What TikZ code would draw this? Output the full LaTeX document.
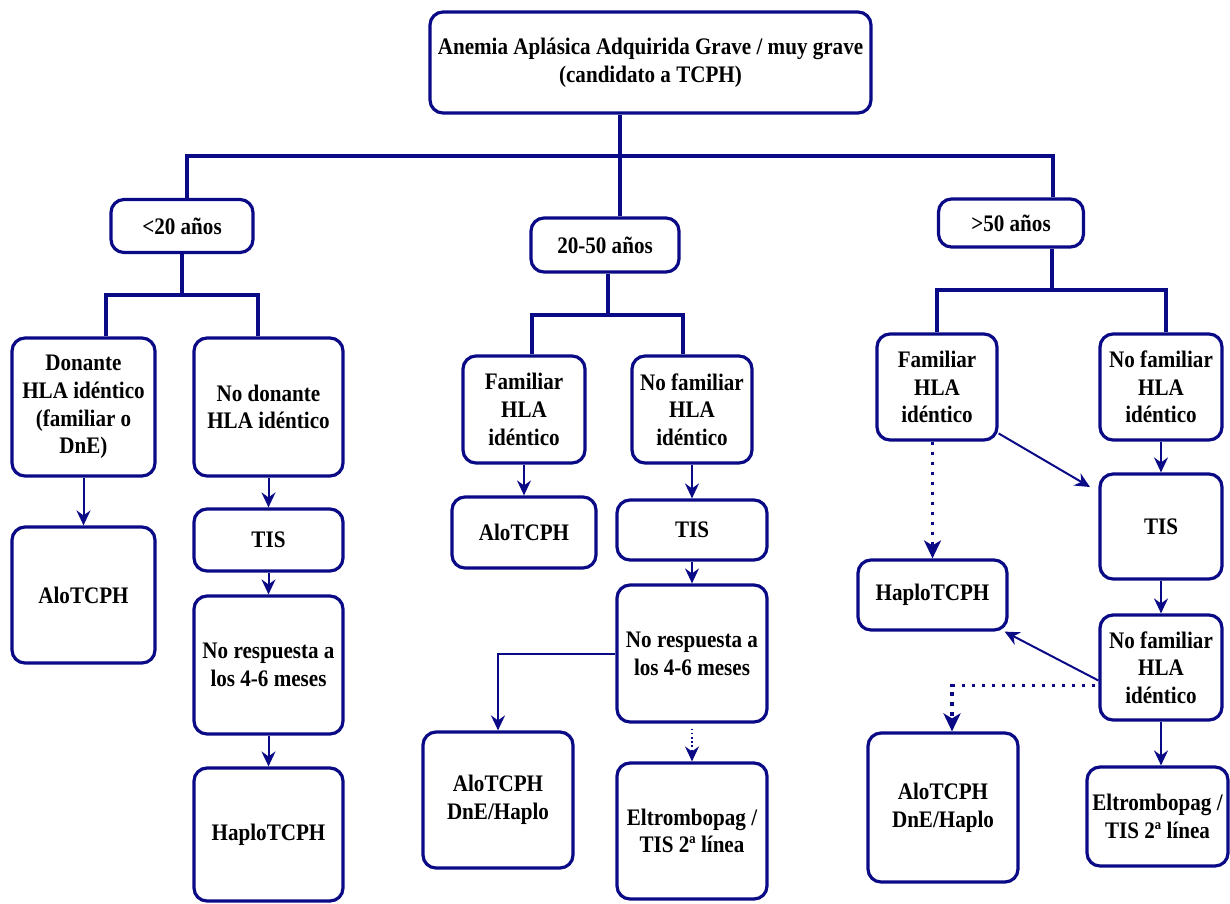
\documentclass[tikz,border=0pt]{standalone}
\usepackage{fontspec}
\setmainfont{Liberation Serif}[FakeStretch=0.89]
\usetikzlibrary{arrows.meta}
\definecolor{navy}{RGB}{10,10,135}
\begin{document}
\begin{tikzpicture}[x=1pt,y=-1pt,
  box/.style={draw=navy, line width=3.2pt, rounded corners=13pt, align=center,
    inner sep=0pt, text=black, font=\fontsize{23.7}{27.7}\selectfont\bfseries},
  tree/.style={draw=navy, line width=3.2pt},
  arr/.style={draw=navy, line width=2pt, -{Stealth[length=15pt,width=14pt,inset=5pt]}},
  arrdot/.style={draw=navy, line width=1.6pt, dash pattern=on 1.6pt off 2.6pt, -{Stealth[length=15pt,width=14pt,inset=5pt]}},
  arrdotb/.style={draw=navy, line width=3.4pt, dash pattern=on 3.5pt off 6.5pt, -{Stealth[length=18pt,width=17pt,inset=5pt]}}
]
\useasboundingbox (0,0) rectangle (1230,903);

% nodes
\node[box, minimum width=441pt, minimum height=101pt] (top) at (650.5,62.5) {Anemia Aplásica Adquirida Grave / muy grave\\(candidato a TCPH)};
\node[box, minimum width=142pt, minimum height=53pt] (lt20) at (182,226) {<20 años};
\node[box, minimum width=148pt, minimum height=54pt] (mid) at (605,245) {20-50 años};
\node[box, minimum width=145pt, minimum height=48pt] (gt50) at (1011,223) {>50 años};

\node[box, minimum width=143pt, minimum height=138pt] (L1) at (83.5,407) {Donante\\HLA idéntico\\(familiar o\\DnE)};
\node[box, minimum width=149pt, minimum height=138pt] (L2) at (268.5,407) {No donante\\HLA idéntico};
\node[box, minimum width=143pt, minimum height=136pt] (L3) at (83.5,595) {AloTCPH};
\node[box, minimum width=149pt, minimum height=62pt] (L4) at (268.5,540) {TIS};
\node[box, minimum width=149pt, minimum height=138pt] (L5) at (268.5,665) {No respuesta a\\los 4-6 meses};
\node[box, minimum width=149pt, minimum height=133pt] (L6) at (268.5,834.5) {HaploTCPH};

\node[box, minimum width=122pt, minimum height=107pt] (M1) at (524,409.5) {Familiar\\HLA\\idéntico};
\node[box, minimum width=120pt, minimum height=107pt] (M2) at (692,409.5) {No familiar\\HLA\\idéntico};
\node[box, minimum width=144pt, minimum height=71pt] (M3) at (524,532.5) {AloTCPH};
\node[box, minimum width=150pt, minimum height=60pt] (M4) at (692,530) {TIS};
\node[box, minimum width=150pt, minimum height=137pt] (M5) at (692,653.5) {No respuesta a\\los 4-6 meses};
\node[box, minimum width=150pt, minimum height=136pt] (M6) at (498,800) {AloTCPH\\DnE/Haplo};
\node[box, minimum width=150pt, minimum height=136pt] (M7) at (692,831) {Eltrombopag /\\TIS 2ª línea};

\node[box, minimum width=120pt, minimum height=106pt] (R1) at (937,387) {Familiar\\HLA\\idéntico};
\node[box, minimum width=122pt, minimum height=106pt] (R2) at (1161,387) {No familiar\\HLA\\idéntico};
\node[box, minimum width=149pt, minimum height=70pt] (R3) at (932.5,595) {HaploTCPH};
\node[box, minimum width=122pt, minimum height=105pt] (R4) at (1161,526.5) {TIS};
\node[box, minimum width=122pt, minimum height=105pt] (R5) at (1161,667.5) {No familiar\\HLA\\idéntico};
\node[box, minimum width=150pt, minimum height=149pt] (R6) at (943,807.5) {AloTCPH\\DnE/Haplo};
\node[box, minimum width=141pt, minimum height=99pt] (R7) at (1157.5,816.5) {Eltrombopag /\\TIS 2ª línea};

% tree coordinates
\coordinate (bT) at (620,156);
\coordinate (bL) at (187,156);
\coordinate (bR) at (1053,156);
\coordinate (sL) at (182,295);
\coordinate (sL1) at (106,295);
\coordinate (sL2) at (258,295);
\coordinate (sM) at (608,315);
\coordinate (sM1) at (532,315);
\coordinate (sM2) at (683,315);
\coordinate (sR) at (1052,290);
\coordinate (sR1) at (937,290);
\coordinate (sR2) at (1166,290);

\draw[tree] (top.south -| bT) -- (mid.north -| bT);
\draw[tree] (lt20.north -| bL) |- (bR) -- (gt50.north -| bR);
\draw[tree] (lt20.south -| sL) -- (sL);
\draw[tree] (L1.north -| sL1) |- (sL2) -- (L2.north -| sL2);
\draw[tree] (mid.south -| sM) -- (sM);
\draw[tree] (M1.north -| sM1) |- (sM2) -- (M2.north -| sM2);
\draw[tree] (gt50.south -| sR) -- (sR);
\draw[tree] (R1.north -| sR1) |- (sR2) -- (R2.north -| sR2);

% arrows left
\draw[arr] (L1) -- (L3);
\draw[arr] (L2) -- (L4);
\draw[arr] (L4) -- (L5);
\draw[arr] (L5) -- (L6);

% arrows middle
\draw[arr] (M1) -- (M3);
\draw[arr] (M2) -- (M4);
\draw[arr] (M4) -- (M5);
\draw[arr] (M5.west) -| (M6.north);
\draw[arrdot] ([yshift=-5pt]M5.south) -- (M7.north);

% arrows right
\coordinate (eR4) at (1090,487);
\coordinate (xR6) at (952,0);
\draw[arrdotb] (R1.south -| R3.north) -- (R3.north);
\draw[arr] (R1.-37) -- (eR4);
\draw[arr] (R2) -- (R4);
\draw[arr] (R4) -- (R5);
\draw[arr] (R5.south) -- (R5.south |- R7.north);
\draw[arr] ([yshift=-13pt]R5.west) -- ([xshift=-4pt]R3.south east);
\draw[arrdotb] ([shift={(-3pt,-18pt)}]R5.west) -| (R6.north -| xR6);
\end{tikzpicture}
\end{document}
